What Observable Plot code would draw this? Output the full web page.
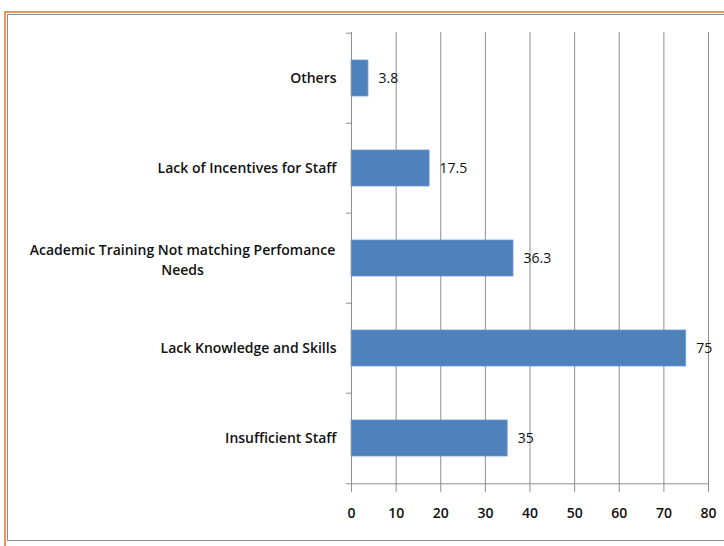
<!DOCTYPE html>
<html>
<head>
<meta charset="utf-8">
<script src="https://cdn.jsdelivr.net/npm/d3@7"></script>
<script src="https://cdn.jsdelivr.net/npm/@observablehq/plot@0.6"></script>
<style>
  html, body { margin: 0; padding: 0; background: #fff; }
  #wrap { position: relative; width: 724px; height: 546px; overflow: hidden; }
  #outer { position: absolute; left: 4px; top: 11px; width: 760px; height: 600px; border: 2px solid #E3965E; box-sizing: border-box; }
  #inner { position: absolute; left: 7px; top: 14px; width: 760px; height: 527px; border: 1px solid #8c8c8c; box-sizing: border-box; }
  #chart { position: absolute; left: 0; top: 0; }
</style>
</head>
<body>
<div id="wrap">
  <div id="outer"></div>
  <div id="inner"></div>
  <div id="chart"></div>
</div>
<script>
const categories = [
  "Others",
  "Lack of Incentives for Staff",
  "Academic Training Not matching Perfomance\nNeeds",
  "Lack Knowledge and Skills",
  "Insufficient Staff"
];
const values = [3.8, 17.5, 36.3, 75, 35];
const xTicks = [0, 10, 20, 30, 40, 50, 60, 70, 80];

const data = categories.map((c, i) => ({category: c, value: values[i]}));
const multi = categories.filter(c => c.includes("\n"));

const W = 724, H = 546, mT = 32, mB = 61, mL = 351, mR = 16;
const step = (H - mT - mB) / categories.length;
const font = "'Open Sans', Lato, sans-serif";
const labelStyle = {fill: "#111", fontWeight: 600, fontSize: 14};

const chart = Plot.plot({
  width: W,
  height: H,
  marginTop: mT,
  marginBottom: mB,
  marginLeft: mL,
  marginRight: mR,
  style: {fontFamily: font, fontSize: "14px", color: "#000", background: "transparent", overflow: "visible"},
  x: {domain: [0, 80]},
  y: {domain: categories, paddingInner: 0.6, paddingOuter: 0.3},
  marks: [
    Plot.ruleX(xTicks, {stroke: "#8f8f8f", strokeWidth: 1}),
    Plot.barX(data, {x: "value", y: "category", fill: "#4F81BD", stroke: "#6f9ad0", strokeWidth: 0.8}),
    Plot.text(data, {x: "value", y: "category", text: d => String(d.value), textAnchor: "start", dx: 10, fill: "#111", fontSize: 14}),
    Plot.ruleX([0], {stroke: "#8f8f8f"}),
    Plot.ruleY(categories.slice(-1), {y: d => d, dy: step / 2, x1: 0, x2: 80, stroke: "#8f8f8f"}),
    Plot.ruleY(categories, {y: d => d, dy: -step / 2, x1: -1.1, x2: 0, stroke: "#8f8f8f"}),
    Plot.ruleY(categories.slice(-1), {y: d => d, dy: step / 2, x1: -1.1, x2: 0, stroke: "#8f8f8f"}),
    Plot.axisX({ticks: xTicks, tickSize: 7, tickPadding: 16, stroke: "#8f8f8f", ...labelStyle, label: null}),
    Plot.axisY({tickSize: 0, tickPadding: 15, tickFormat: d => d.includes("\n") ? "" : d, ...labelStyle, label: null}),
    Plot.text(multi, {y: d => d, text: d => d, frameAnchor: "left", textAnchor: "middle", dx: -169, lineHeight: 1.45, ...labelStyle})
  ]
});
document.getElementById("chart").appendChild(chart);
</script>
</body>
</html>
